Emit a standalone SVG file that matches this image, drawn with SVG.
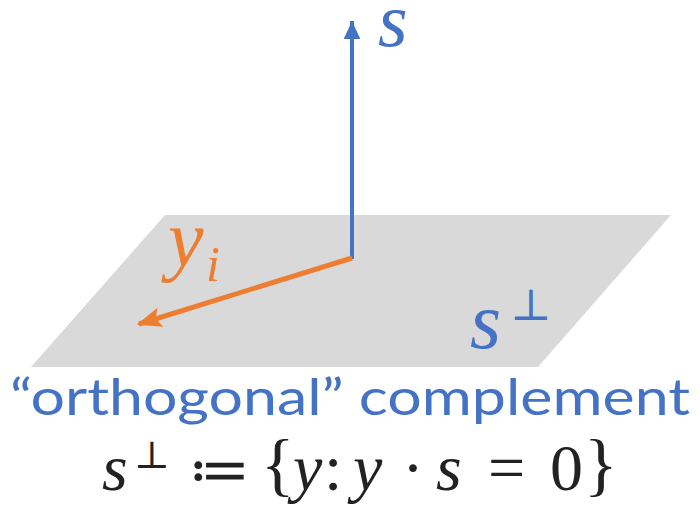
<svg xmlns="http://www.w3.org/2000/svg" width="700" height="505" viewBox="0 0 700 505">
<style>
.blue{fill:#4472C4}
.orange{fill:#ED7D31}
.math{font-family:"Liberation Serif","DejaVu Serif",serif;font-style:italic}
.up{font-family:"Liberation Serif","DejaVu Serif",serif;font-style:normal}
.sym{font-family:"DejaVu Serif",serif;font-style:normal}
.sans{font-family:"Lato","Open Sans",sans-serif}
.it{font-style:italic}
</style>
<defs>
<marker id="ab" markerWidth="4.5" markerHeight="4.2" refX="4.5" refY="2.1" orient="auto" markerUnits="strokeWidth"><path d="M0,0 L4.5,2.1 L0,4.2 Z" fill="#4472C4"/></marker>
<marker id="ao" markerWidth="5" markerHeight="4" refX="4.5" refY="2" orient="auto" markerUnits="strokeWidth"><path d="M0,0 L5,2 L0,4 L1,2 Z" fill="#ED7D31"/></marker>
</defs>
<g id="plane"><polygon points="165,215 671,215 538,367 31,367" fill="#D9D9D9"/></g>
<g id="connectors">
<line x1="352" y1="259" x2="352" y2="21" stroke="#4472C4" stroke-width="4" marker-end="url(#ab)"/>
<line x1="352" y1="258" x2="139" y2="324" stroke="#ED7D31" stroke-width="5" marker-end="url(#ao)"/>
</g>
<g id="label-s"><text x="378" y="46" class="math blue" font-size="76">s</text></g>
<g id="label-yi"><text x="168" y="266" class="math orange" font-size="80">y</text><text x="206" y="281" class="math orange" font-size="50">i</text></g>
<g id="label-sperp"><text x="470" y="348" class="math blue" font-size="80">s</text><text x="510" y="320" class="sym blue" font-size="44">⊥</text></g>
<g id="caption"><text x="10" y="415" class="sans blue" font-size="51" textLength="680" lengthAdjust="spacingAndGlyphs">“orthogonal” complement</text></g>
<g id="formula" class="up" fill="#222" font-size="66">
<text x="102" y="490" class="it">s</text>
<text x="134" y="468" class="sym" font-size="38">⊥</text>
<text x="188" y="490" class="sym" font-size="60">≔</text>
<text x="261" y="488" font-size="70">{</text>
<text x="293" y="490" class="it">y</text>
<text x="324" y="490">:</text>
<text x="353" y="490" class="it">y</text>
<text x="402" y="490">·</text>
<text x="436" y="490" class="it">s</text>
<text x="488" y="490">=</text>
<text x="550" y="490">0</text>
<text x="584" y="488" font-size="70">}</text>
</g>
</svg>
